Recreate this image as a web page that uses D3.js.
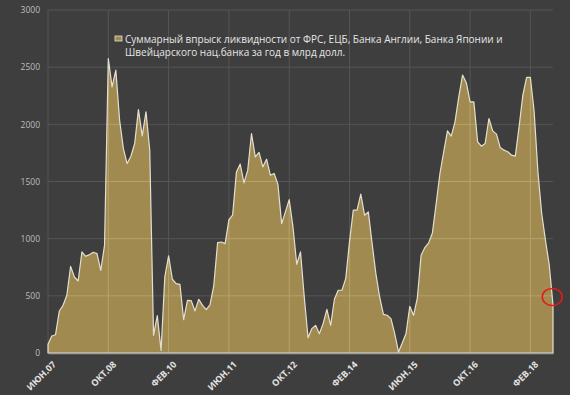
<!DOCTYPE html>
<html>
<head>
<meta charset="utf-8">
<script src="https://cdn.jsdelivr.net/npm/d3@7"></script>
<style>
  body { margin: 0; background: #3e3e3e; }
  svg { display: block; }
  .tick text { font-family: "Open Sans", sans-serif; }
</style>
</head>
<body>
<div id="chart"></div>
<script>
var svgWidth = 570;
var svgHeight = 395;

var margin = { top: 10, right: 17, bottom: 42, left: 48 };
var width = svgWidth - margin.left - margin.right;
var height = svgHeight - margin.top - margin.bottom;

// monthly values, Jun 2007 .. Aug 2018 (bn USD)
var values = [
  76, 149, 160, 367, 417, 505, 758, 665, 630, 884,
  846, 860, 881, 869, 723, 942, 2576, 2328, 2474, 2036,
  1788, 1657, 1721, 1832, 2129, 1899, 2109, 1773, 155, 327,
  23, 665, 849, 645, 607, 601, 292, 461, 458, 368,
  470, 417, 379, 423, 592, 966, 971, 957, 1164, 1208,
  1584, 1652, 1488, 1599, 1920, 1716, 1754, 1628, 1695, 1555,
  1570, 1477, 1132, 1234, 1342, 1103, 776, 884, 490, 134,
  213, 242, 169, 257, 382, 242, 470, 549, 549, 651,
  972, 1249, 1249, 1389, 1205, 1234, 957, 694, 490, 338,
  330, 301, 169, 9, 88, 170, 409, 330, 480, 855,
  922, 963, 1050, 1307, 1570, 1760, 1943, 1897, 2022, 2241,
  2431, 2364, 2197, 2197, 1847, 1809, 1833, 2051, 1943, 1914,
  1797, 1774, 1760, 1730, 1722, 1978, 2256, 2410, 2410, 2110,
  1584, 1220, 986, 770, 420
];

var monthNames = ["ЯНВ", "ФЕВ", "МАР", "АПР", "МАЙ", "ИЮН", "ИЮЛ", "АВГ", "СЕН", "ОКТ", "НОЯ", "ДЕК"];
var categories = values.map(function(v, i) {
  var m = 5 + i; // start: June 2007
  var yr = 7 + Math.floor(m / 12);
  return monthNames[m % 12] + "." + (yr < 10 ? "0" + yr : yr);
});

var yTicks = [0, 500, 1000, 1500, 2000, 2500, 3000];
var labelStep = 16;
var legendText = ["Суммарный впрыск ликвидности от ФРС, ЕЦБ, Банка Англии, Банка Японии и",
                  "Швейцарского нац.банка за год в млрд долл."];

var svg = d3.select("#chart")
  .append("svg")
  .attr("width", svgWidth)
  .attr("height", svgHeight);

svg.append("rect")
  .attr("width", svgWidth)
  .attr("height", svgHeight)
  .attr("fill", "#3e3e3e");

var chartGroup = svg.append("g")
  .attr("transform", `translate(${margin.left}, ${margin.top})`);

var xScale = d3.scaleLinear()
  .domain([0, values.length - 1])
  .range([0, width]);

var yScale = d3.scaleLinear()
  .domain([0, 3000])
  .range([height, 0]);

var labelIdx = d3.range(0, values.length, labelStep);

// gridlines
chartGroup.append("g")
  .selectAll("line.h")
  .data(yTicks)
  .enter()
  .append("line")
  .attr("x1", 0)
  .attr("x2", width)
  .attr("y1", d => yScale(d))
  .attr("y2", d => yScale(d))
  .attr("stroke", "#555555")
  .attr("stroke-width", 1);

chartGroup.append("g")
  .selectAll("line.v")
  .data(labelIdx)
  .enter()
  .append("line")
  .attr("x1", d => xScale(d))
  .attr("x2", d => xScale(d))
  .attr("y1", 0)
  .attr("y2", height)
  .attr("stroke", "#555555")
  .attr("stroke-width", 1);

// area
var area = d3.area()
  .x((d, i) => xScale(i))
  .y0(height)
  .y1(d => yScale(d));

chartGroup.append("path")
  .datum(values)
  .attr("d", area)
  .attr("fill", "#a08a4f");

// grid shows faintly through the fill
var clip = chartGroup.append("clipPath").attr("id", "areaClip");
clip.append("path").datum(values).attr("d", area);

var inner = chartGroup.append("g").attr("clip-path", "url(#areaClip)");
inner.selectAll("line.v2")
  .data(labelIdx)
  .enter()
  .append("line")
  .attr("x1", d => xScale(d))
  .attr("x2", d => xScale(d))
  .attr("y1", 0)
  .attr("y2", height)
  .attr("stroke", "#b6a26c")
  .attr("stroke-width", 1);
inner.selectAll("line.h2")
  .data(yTicks)
  .enter()
  .append("line")
  .attr("x1", 0)
  .attr("x2", width)
  .attr("y1", d => yScale(d))
  .attr("y2", d => yScale(d))
  .attr("stroke", "#b6a26c")
  .attr("stroke-width", 1);

chartGroup.append("path")
  .datum(values)
  .attr("d", area)
  .attr("fill", "none")
  .attr("stroke", "#e4dfd0")
  .attr("stroke-width", 1.2)
  .attr("stroke-linejoin", "round");

// y axis
var yAxis = d3.axisLeft(yScale)
  .tickValues(yTicks)
  .tickFormat(d3.format("d"))
  .tickSize(0)
  .tickPadding(8);
var yG = chartGroup.append("g").call(yAxis);
yG.select(".domain").remove();
yG.selectAll("text")
  .attr("fill", "#bdbdbd")
  .attr("font-size", "8.5px");

// x axis
var xAxis = d3.axisBottom(xScale)
  .tickValues(labelIdx)
  .tickFormat(i => categories[i])
  .tickSize(0);
var xG = chartGroup.append("g")
  .attr("transform", `translate(0,${height})`)
  .call(xAxis);
xG.select(".domain")
  .attr("stroke", "#a0a0a0")
  .attr("stroke-width", 1.5);
xG.selectAll("text")
  .attr("fill", "#e2e2e2")
  .attr("font-size", "9px")
  .attr("font-weight", "bold")
  .attr("text-anchor", "end")
  .attr("dy", "0.3em")
  .attr("transform", "translate(4,8) rotate(-45)");

// legend
var legend = svg.append("g").attr("transform", "translate(115, 35)");
legend.append("rect")
  .attr("x", 0)
  .attr("y", 1)
  .attr("width", 7)
  .attr("height", 5)
  .attr("fill", "#a08a4f")
  .attr("stroke", "#e4dfd0")
  .attr("stroke-width", 0.8);
legend.selectAll("text")
  .data(legendText)
  .enter()
  .append("text")
  .attr("x", 10)
  .attr("y", (d, i) => 4 + i * 13)
  .attr("dy", "0.35em")
  .attr("font-family", "Open Sans, sans-serif")
  .attr("font-size", "10px")
  .attr("fill", "#e6e6e6")
  .text(d => d);

// hand-drawn red mark near the last value
var last = values.length - 1;
chartGroup.append("ellipse")
  .attr("cx", xScale(last - 0.2))
  .attr("cy", yScale(490))
  .attr("rx", 10)
  .attr("ry", 8.5)
  .attr("fill", "none")
  .attr("stroke", "#e8191c")
  .attr("stroke-width", 1.6);
</script>
</body>
</html>
